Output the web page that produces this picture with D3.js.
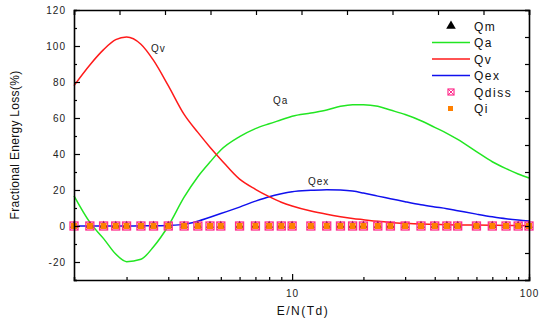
<!DOCTYPE html>
<html>
<head>
<meta charset="utf-8">
<script src="https://cdn.jsdelivr.net/npm/d3@7"></script>
<style>
  body { margin: 0; background: #fff; }
  svg { font-family: "Liberation Sans", Arial, sans-serif; }
  .lbl { font-size: 10px; letter-spacing: 1px; fill: #222; }
  .leg { font-size: 12px; letter-spacing: 1.5px; fill: #111; }
</style>
</head>
<body>
<svg width="539" height="324"></svg>
<script>
// E/N values (Td)
var en = [1.2, 1.4, 1.6, 1.8, 2, 2.3, 2.6, 3, 3.5, 4, 4.5, 5, 6, 7, 8, 9, 10,
          12, 14, 16, 18, 20, 23, 26, 30, 35, 40, 45, 50, 60, 70, 80, 90, 100];

// fractional losses (%)
var qa  = [16.7, 2, -7, -15.6, -19.8, -18.5, -11.5, 0, 16, 27.4, 35.5, 42.2, 49.6, 54.1, 56.8, 59, 61,
           62.8, 64.4, 66.5, 67.4, 67.4, 66.5, 64.4, 61.9, 58.5, 54.8, 51.5, 48.1, 41.3, 35.7, 31.9, 28.9, 26.7];
var qv  = [78, 89.5, 98, 103.5, 105, 101, 92, 78, 62, 52, 43.8, 37, 26, 20.4, 16.3, 13.2, 11.1,
           8.3, 6.5, 5.2, 4.2, 3.5, 2.6, 2.0, 1.5, 1.1, 0.9, 0.7, 0.6, 0.5, 0.4, 0.3, 0.3, 0.2];
var qex = [0, 0, 0, 0, 0, 0.1, 0.1, 0.3, 0.9, 2.7, 4.9, 6.9, 10.5, 13.8, 16.3, 17.9, 19,
           19.8, 20.2, 20, 19.4, 18.3, 16.6, 15.2, 13.5, 11.8, 10.6, 9.6, 8.5, 6.6, 5.1, 4, 3.3, 2.8];
var qm    = en.map(function(d) { return 0; });
var qdiss = en.map(function(d) { return 0; });
var qi    = en.map(function(d) { return 0; });

var yTicks = [-20, 0, 20, 40, 60, 80, 100, 120];
var xTickLabels = [10, 100];

var svg = d3.select("svg"),
    margin = {top: 10, right: 10, bottom: 44, left: 74},
    width = +svg.attr("width"),
    height = +svg.attr("height");

var x = d3.scaleLog()
    .domain([1.2, 100])
    .range([margin.left, width - margin.right]);

var y = d3.scaleLinear()
    .domain([-30, 120])
    .range([height - margin.bottom, margin.top]);

var green = "#22e622", red = "#ff1a1a", blue = "#1010ee";

// curves
function drawLine(vals, color) {
    var line = d3.line()
        .curve(d3.curveMonotoneX)
        .x(function(d, i) { return x(en[i]); })
        .y(function(d) { return y(d); });
    svg.append("path")
        .datum(vals)
        .attr("fill", "none")
        .attr("stroke", color)
        .attr("stroke-width", 1.5)
        .attr("d", line);
}
drawLine(qex, blue);
drawLine(qa, green);
drawLine(qv, red);

// markers (all zero)
var tri = d3.symbol().type(d3.symbolTriangle).size(28);
svg.append("g").selectAll("path")
    .data(qm).enter().append("path")
    .attr("d", tri)
    .attr("fill", "#000")
    .attr("transform", function(d, i) { return "translate(" + x(en[i]) + "," + (y(d) - 0.5) + ")"; });

var dg = svg.append("g").selectAll("g")
    .data(qdiss).enter().append("g")
    .attr("transform", function(d, i) { return "translate(" + x(en[i]) + "," + y(d) + ")"; });
dg.append("rect")
    .attr("x", -4).attr("y", -4).attr("width", 8).attr("height", 8)
    .attr("fill", "none").attr("stroke", "#ff2d8c").attr("stroke-width", 1.3);
dg.append("path")
    .attr("d", "M-4,-4L4,4M4,-4L-4,4")
    .attr("stroke", "#ff2d8c").attr("stroke-width", 1);

svg.append("g").selectAll("rect")
    .data(qi).enter().append("rect")
    .attr("x", function(d, i) { return x(en[i]) - 3; })
    .attr("y", function(d) { return y(d) - 3; })
    .attr("width", 6).attr("height", 6)
    .attr("fill", "#ff8000");

// axes
var bottom = svg.append("g")
    .attr("transform", "translate(0," + (height - margin.bottom) + ")")
    .call(d3.axisBottom(x)
        .tickValues([2, 3, 4, 5, 6, 7, 8, 9, 10, 20, 30, 40, 50, 60, 70, 80, 90, 100])
        .tickFormat(function(d) { return xTickLabels.indexOf(d) >= 0 ? d : ""; })
        .tickSize(-3));
bottom.selectAll(".tick line")
    .attr("y2", function(d) { return xTickLabels.indexOf(d) >= 0 ? -6 : -3; });
bottom.selectAll(".tick text").attr("y", 10).attr("dy", "0.71em")
    .style("font-size", "10px").style("letter-spacing", "1px").attr("fill", "#222");

var left = svg.append("g")
    .attr("transform", "translate(" + margin.left + ",0)")
    .call(d3.axisLeft(y)
        .tickValues(d3.range(-30, 121, 10))
        .tickFormat(function(d) { return yTicks.indexOf(d) >= 0 ? d : ""; })
        .tickSize(-3));
left.selectAll(".tick line")
    .attr("x2", function(d) { return yTicks.indexOf(d) >= 0 ? 6 : 3; });
left.selectAll(".tick text").attr("x", -8)
    .style("font-size", "10px").style("letter-spacing", "1px").attr("fill", "#222");

var tx = d3.scaleLinear().domain([0, 10]).range(x.range());
svg.append("g")
    .attr("transform", "translate(0," + margin.top + ")")
    .call(d3.axisTop(tx).ticks(10).tickFormat("").tickSize(-5));

var ty = d3.scaleLinear().domain([0, 10]).range(y.range());
svg.append("g")
    .attr("transform", "translate(" + (width - margin.right) + ",0)")
    .call(d3.axisRight(ty).ticks(10).tickFormat("").tickSize(-4));

svg.selectAll(".domain").attr("stroke", "#000").attr("stroke-width", 1.6);
svg.selectAll(".tick line").attr("stroke", "#000").attr("stroke-width", 1.2);

// axis titles
svg.append("text")
    .attr("class", "leg")
    .attr("text-anchor", "middle")
    .attr("transform", "translate(19," + ((margin.top + height - margin.bottom) / 2) + ") rotate(-90)")
    .style("letter-spacing", "0.3px")
    .text("Fractional Energy Loss(%)");

svg.append("text")
    .attr("class", "leg")
    .attr("x", 303).attr("y", 315)
    .attr("text-anchor", "middle")
    .text("E/N(Td)");

// curve labels
svg.append("text").attr("class", "lbl").attr("x", 151).attr("y", 52).text("Qv");
svg.append("text").attr("class", "lbl").attr("x", 273).attr("y", 104).text("Qa");
svg.append("text").attr("class", "lbl").attr("x", 308).attr("y", 185).text("Qex");

// legend
var legend = [
    {name: "Qm", kind: "tri"},
    {name: "Qa", kind: "line", color: green},
    {name: "Qv", kind: "line", color: red},
    {name: "Qex", kind: "line", color: blue},
    {name: "Qdiss", kind: "diss"},
    {name: "Qi", kind: "sq"}
];
var lg = svg.append("g").selectAll("g")
    .data(legend).enter().append("g")
    .attr("transform", function(d, i) { return "translate(0," + (26 + i * 16.5) + ")"; });
lg.each(function(d) {
    var g = d3.select(this);
    if (d.kind == "line") {
        g.append("line").attr("x1", 432).attr("x2", 470)
            .attr("stroke", d.color).attr("stroke-width", 1.5);
    } else if (d.kind == "tri") {
        g.append("path").attr("d", d3.symbol().type(d3.symbolTriangle).size(40))
            .attr("transform", "translate(451,0)").attr("fill", "#000");
    } else if (d.kind == "diss") {
        g.append("rect").attr("x", 448).attr("y", -3).attr("width", 6).attr("height", 6)
            .attr("fill", "none").attr("stroke", "#ff2d8c").attr("stroke-width", 1.2);
        g.append("path").attr("d", "M448,-3L454,3M454,-3L448,3")
            .attr("stroke", "#ff2d8c").attr("stroke-width", 1);
    } else {
        g.append("rect").attr("x", 448).attr("y", -2.5).attr("width", 5).attr("height", 5)
            .attr("fill", "#ff8000");
    }
    g.append("text").attr("class", "leg").attr("x", 474).attr("y", 4.5).text(d.name);
});
</script>
</body>
</html>
